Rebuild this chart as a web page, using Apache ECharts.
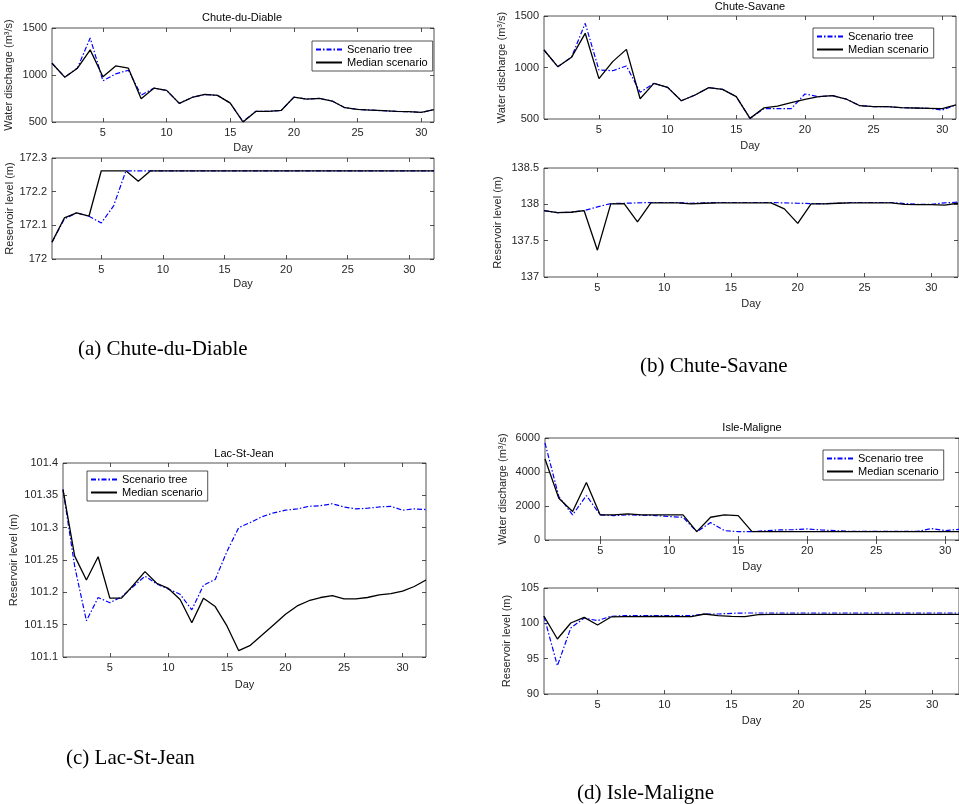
<!DOCTYPE html>
<html><head><meta charset="utf-8">
<script src="https://cdn.jsdelivr.net/npm/echarts@6/dist/echarts.min.js"></script>
<style>html,body{margin:0;padding:0;background:#fff}#c{width:959px;height:804px}</style>
</head><body><div id="c"></div>
<script>
// ---------- data ----------
const days = [1,2,3,4,5,6,7,8,9,10,11,12,13,14,15,16,17,18,19,20,21,22,23,24,25,26,27,28,29,30,31,32];
const xTicks = [5,10,15,20,25,30];
const seriesNames = ['Scenario tree','Median scenario'];

// (a) Chute-du-Diable
const cddFlowTree   = [1125,977,1075,1394,938,1012,1051,786,860,836,698,761,793,783,701,505,613,613,623,765,744,751,723,652,634,627,620,613,610,602,631];
const cddFlowMedian = [1125,977,1072,1267,981,1097,1072,747,860,836,698,761,793,783,701,500,613,613,623,765,744,751,723,652,634,627,620,613,610,602,631];
const cddLevelTree   = [172.05,172.119,172.137,172.127,172.107,172.158,172.262,172.262,172.262,172.262,172.262,172.262,172.262,172.262,172.262,172.262,172.262,172.262,172.262,172.262,172.262,172.262,172.262,172.262,172.262,172.262,172.262,172.262,172.262,172.262,172.262,172.262];
const cddLevelMedian = [172.05,172.122,172.137,172.127,172.262,172.262,172.262,172.231,172.262,172.262,172.262,172.262,172.262,172.262,172.262,172.262,172.262,172.262,172.262,172.262,172.262,172.262,172.262,172.262,172.262,172.262,172.262,172.262,172.262,172.262,172.262,172.262];

// (b) Chute-Savane
const csFlowTree   = [1170,1008,1099,1429,976,969,1015,759,846,807,677,733,804,788,717,506,600,600,600,743,717,727,694,629,620,620,610,607,604,587,636];
const csFlowMedian = [1170,1008,1099,1332,892,1057,1176,697,846,807,677,733,804,788,717,506,607,626,659,691,717,727,694,629,620,620,610,607,604,600,636];
const csLevelTree   = [137.914,137.886,137.891,137.914,137.965,138.01,138.015,138.02,138.025,138.025,138.025,138.015,138.02,138.025,138.025,138.025,138.025,138.025,138.02,138.015,138.01,138.01,138.015,138.025,138.025,138.025,138.025,138.01,138.0,138.0,138.02,138.03];
const csLevelMedian = [137.914,137.886,137.891,137.914,137.369,138.006,138.01,137.76,138.02,138.02,138.02,138.006,138.015,138.02,138.02,138.02,138.02,138.02,137.937,137.738,138.006,138.006,138.015,138.02,138.02,138.02,138.02,138.0,137.997,137.997,137.988,138.015];

// (c) Lac-St-Jean
const lsjLevelTree   = [101.359,101.24,101.156,101.192,101.184,101.193,101.209,101.225,101.213,101.205,101.197,101.173,101.211,101.22,101.263,101.30,101.308,101.317,101.323,101.327,101.329,101.333,101.334,101.337,101.332,101.329,101.330,101.332,101.333,101.327,101.329,101.328];
const lsjLevelMedian = [101.359,101.256,101.219,101.255,101.191,101.191,101.211,101.232,101.214,101.206,101.189,101.153,101.191,101.178,101.148,101.110,101.118,101.134,101.150,101.166,101.179,101.187,101.192,101.195,101.190,101.190,101.192,101.196,101.198,101.202,101.209,101.219];

// (d) Isle-Maligne
const imFlowTree   = [5705,2557,1475,2616,1475,1436,1475,1456,1436,1377,1338,492,1023,551,492,492,551,590,610,649,590,551,511,511,511,511,511,511,669,551,630];
const imFlowMedian = [4761,2459,1672,3384,1475,1475,1534,1475,1475,1475,1475,492,1338,1475,1436,492,490,490,490,490,490,490,490,490,490,490,490,490,490,490,490];
const imLevelTree   = [101.0,94.0,99.34,100.75,100.38,101.0,101.08,101.08,101.08,101.08,101.08,101.08,101.32,101.32,101.42,101.46,101.46,101.46,101.46,101.46,101.46,101.46,101.46,101.46,101.46,101.46,101.46,101.46,101.46,101.46,101.46,101.46];
const imLevelMedian = [101.0,97.78,100.05,100.85,99.76,100.9,100.95,100.95,100.97,100.97,100.95,100.95,101.32,101.08,100.99,100.95,101.23,101.27,101.27,101.27,101.27,101.27,101.27,101.27,101.27,101.27,101.27,101.27,101.27,101.27,101.27,101.27];

// ---------- layout ----------
const flowName = 'Water discharge (m\u00B3/s)';
const levelName = 'Reservoir level (m)';
const panels = [
  {left:52, top:28, width:382, height:94, xmax:31, ymin:500, ymax:1500, yint:500, yname:flowName, ygap:38, xgap:20, tree:cddFlowTree, med:cddFlowMedian},
  {left:52, top:158, width:382, height:101, xmax:32, ymin:172, ymax:172.3, yint:0.1, yname:levelName, ygap:36, xgap:19, tree:cddLevelTree, med:cddLevelMedian},
  {left:544, top:16, width:412, height:103, xmax:31, ymin:500, ymax:1500, yint:500, yname:flowName, ygap:37, xgap:21, tree:csFlowTree, med:csFlowMedian},
  {left:544, top:168, width:414, height:109, xmax:32, ymin:137, ymax:138.5, yint:0.5, yname:levelName, ygap:41, xgap:21, tree:csLevelTree, med:csLevelMedian},
  {left:63, top:463, width:363, height:194, xmax:32, ymin:101.1, ymax:101.4, yint:0.05, yname:levelName, ygap:44, xgap:22, tree:lsjLevelTree, med:lsjLevelMedian},
  {left:545, top:438, width:415, height:102, xmax:31, ymin:0, ymax:6000, yint:2000, yname:flowName, ygap:37, xgap:21, tree:imFlowTree, med:imFlowMedian},
  {left:544, top:588, width:419, height:106, xmax:32, ymin:90, ymax:105, yint:5, yname:levelName, ygap:32, xgap:21, tree:imLevelTree, med:imLevelMedian}
];
const legendPos = [
  {left:312, top:41},
  {left:813, top:28},
  {left:87, top:471},
  {left:823, top:450}
];
const titles = [
  {text:'Chute-du-Diable', x:242, y:18},
  {text:'Chute-Savane', x:750, y:7},
  {text:'Lac-St-Jean', x:244, y:454},
  {text:'Isle-Maligne', x:752, y:428}
];
const captions = [
  {text:'(a) Chute-du-Diable', x:78, y:349},
  {text:'(b) Chute-Savane', x:640, y:366},
  {text:'(c) Lac-St-Jean', x:66, y:758},
  {text:'(d) Isle-Maligne', x:577, y:793}
];

const AX = '#262626';
const FONT = 'Liberation Sans, Arial, sans-serif';
const fmt = v => String(parseFloat(v.toFixed(3)));

const grid = [], xAxis = [], yAxis = [], series = [];
panels.forEach((p, g) => {
  grid.push({left:p.left, top:p.top, width:p.width, height:p.height, show:true, borderColor:AX, borderWidth:0.8, backgroundColor:'transparent', containLabel:false});
  const tick = {show:true, inside:true, length:4, customValues:xTicks, lineStyle:{color:AX, width:0.8}};
  xAxis.push({type:'value', gridIndex:g, min:1, max:p.xmax, position:'bottom',
    name:'Day', nameLocation:'middle', nameGap:p.xgap, nameTextStyle:{fontSize:11, color:AX, fontFamily:FONT},
    axisLine:{show:false}, splitLine:{show:false}, axisTick:tick,
    axisLabel:{customValues:xTicks, fontSize:11, color:AX, margin:5, fontFamily:FONT}});
  xAxis.push({type:'value', gridIndex:g, min:1, max:p.xmax, position:'top',
    axisLine:{show:false}, splitLine:{show:false}, axisTick:tick, axisLabel:{show:false}});
  const ytick = {show:true, inside:true, length:4, lineStyle:{color:AX, width:0.8}};
  yAxis.push({type:'value', gridIndex:g, min:p.ymin, max:p.ymax, interval:p.yint, position:'left',
    name:p.yname, nameLocation:'middle', nameGap:p.ygap, nameTextStyle:{fontSize:11, color:AX, fontFamily:FONT},
    axisLine:{show:false}, splitLine:{show:false}, axisTick:ytick,
    axisLabel:{fontSize:11, color:AX, margin:5, fontFamily:FONT, formatter:fmt}});
  yAxis.push({type:'value', gridIndex:g, min:p.ymin, max:p.ymax, interval:p.yint, position:'right',
    axisLine:{show:false}, splitLine:{show:false}, axisTick:ytick, axisLabel:{show:false}});
  series.push({name:seriesNames[0], type:'line', xAxisIndex:2*g, yAxisIndex:2*g, symbol:'none', animation:false,
    data:p.tree.map((v,i)=>[days[i], v]),
    lineStyle:{color:'#0000ff', width:1.2, type:[5,2,1.5,2]}, itemStyle:{color:'#0000ff'}, z:2});
  series.push({name:seriesNames[1], type:'line', xAxisIndex:2*g, yAxisIndex:2*g, symbol:'none', animation:false,
    data:p.med.map((v,i)=>[days[i], v]),
    lineStyle:{color:'#000', width:1.3}, itemStyle:{color:'#000'}, z:3});
});

const legend = legendPos.map(l => ({
  show:true, orient:'vertical', left:l.left, top:l.top, data:seriesNames, selectedMode:false,
  borderColor:'#262626', borderWidth:0.8, backgroundColor:'#fff', padding:[3,5,3,3], itemGap:2,
  itemWidth:26, itemHeight:12, itemStyle:{opacity:0},
  textStyle:{fontSize:11, color:'#000', fontFamily:FONT}
}));

const graphic = [];
titles.forEach(t => graphic.push({type:'text', x:t.x, y:t.y, style:{text:t.text, fill:'#000', font:'11px ' + FONT, textAlign:'center', textVerticalAlign:'middle'}}));
captions.forEach(t => graphic.push({type:'text', x:t.x, y:t.y, style:{text:t.text, fill:'#000', font:'21px "Liberation Serif", serif', textAlign:'left', textVerticalAlign:'middle'}}));

const chart = echarts.init(document.getElementById('c'), null, {renderer:'canvas'});
chart.setOption({animation:false, backgroundColor:'#fff', grid, xAxis, yAxis, series, legend, graphic});
</script></body></html>
